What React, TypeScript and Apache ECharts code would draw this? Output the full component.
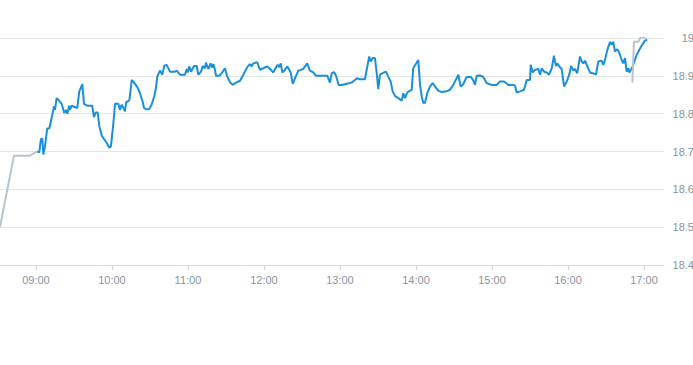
import React, { useEffect, useRef } from "react";
import * as echarts from "echarts";

// minutes after 09:00 and prices
const preMinutes = [-28.4, -17.4, -4.7, 1.0];
const preValues = [18.5, 18.689, 18.689, 18.7];

const mainMinutes = [
  1.0, 2.6, 3.9, 5.0, 5.8, 7.1, 8.9, 10.5, 12.4, 14.2, 15.0, 16.3, 17.6, 20.3, 22.3, 23.7, 24.7, 26.3, 26.8, 28.2,
  32.6, 34.2, 36.6, 37.9, 40.5, 44.4, 45.8, 47.1, 48.7, 50.0, 51.9, 53.7, 55.8, 57.9, 59.2, 61.0, 62.4, 65.0, 66.3, 67.7,
  70.3, 71.1, 73.7, 75.6, 77.4, 80.0, 82.1, 84.2, 85.3, 86.8, 89.4, 91.3, 93.4, 94.5, 95.8, 97.9, 99.7, 101.3, 103.2, 105.8,
  109.7, 111.1, 113.7, 117.6, 119.0, 119.8, 121.0, 122.4, 124.7, 126.9, 128.1, 130.3, 131.6, 133.4, 134.2, 136.0, 137.9, 138.9, 140.0, 141.3,
  142.1, 144.7, 146.6, 149.2, 151.0, 153.2, 155.3, 157.9, 161.1, 163.7, 166.8, 168.9, 170.3, 171.6, 174.7, 176.8, 179.5, 182.6, 184.7, 187.3,
  188.7, 190.8, 192.1, 193.2, 194.5, 196.6, 198.4, 201.1, 202.7, 205.3, 207.1, 208.4, 211.0, 212.4, 214.2, 216.3, 218.9, 221.1, 224.2, 227.4,
  230.0, 232.1, 233.5, 235.3, 236.9, 239.0, 241.4, 245.3, 249.2, 251.8, 253.7, 255.2, 259.7, 261.1, 263.1, 264.2, 265.8, 267.6, 269.0, 270.2,
  271.6, 273.7, 276.3, 278.1, 280.0, 281.6, 283.4, 286.0, 288.7, 290.0, 291.3, 293.1, 295.3, 296.6, 297.8, 300.6, 301.8, 303.2, 304.5, 305.8,
  307.1, 308.9, 311.1, 313.2, 315.0, 317.6, 320.3, 324.2, 326.8, 329.4, 332.1, 333.4, 335.3, 337.3, 340.0, 343.4, 345.2, 346.6, 347.9, 350.5,
  353.1, 355.8, 359.7, 363.7, 366.3, 369.5, 372.9, 376.8, 378.2, 379.5, 382.1, 385.3, 387.4, 390.0, 390.6, 392.2, 394.0, 396.6, 397.9, 399.3,
  401.1, 403.2, 405.0, 407.2, 408.9, 410.5, 411.6, 413.1, 415.0, 416.9, 419.0, 421.0, 422.4, 424.2, 425.5, 427.3, 429.5, 430.8, 432.1, 433.4,
  435.2, 437.4, 439.5, 442.1, 443.9, 446.6, 447.9, 449.2, 451.0, 453.2, 454.5, 455.8, 457.1, 458.5, 459.7, 461.1, 462.4, 463.7, 465.0, 466.3,
  467.6, 468.4, 469.7, 471.1, 474.2, 477.6, 480.8, 482.6,
];
const mainValues = [
  18.7, 18.698, 18.733, 18.734, 18.692, 18.714, 18.761, 18.761, 18.789, 18.819, 18.81, 18.841, 18.837, 18.826, 18.802, 18.81, 18.8, 18.821, 18.81, 18.821,
  18.815, 18.859, 18.878, 18.826, 18.821, 18.821, 18.791, 18.803, 18.803, 18.767, 18.742, 18.733, 18.723, 18.71, 18.714, 18.771, 18.826, 18.826, 18.81, 18.824,
  18.806, 18.83, 18.835, 18.889, 18.882, 18.87, 18.854, 18.832, 18.815, 18.812, 18.812, 18.824, 18.846, 18.863, 18.898, 18.914, 18.903, 18.927, 18.929, 18.911,
  18.911, 18.914, 18.903, 18.903, 18.918, 18.909, 18.925, 18.911, 18.926, 18.926, 18.903, 18.911, 18.926, 18.92, 18.935, 18.918, 18.933, 18.922, 18.931, 18.916,
  18.9, 18.9, 18.907, 18.92, 18.898, 18.883, 18.876, 18.882, 18.887, 18.903, 18.923, 18.931, 18.925, 18.933, 18.936, 18.916, 18.92, 18.925, 18.918, 18.909,
  18.918, 18.929, 18.923, 18.933, 18.909, 18.916, 18.925, 18.909, 18.879, 18.9, 18.914, 18.915, 18.918, 18.925, 18.933, 18.914, 18.909, 18.9, 18.9, 18.9,
  18.9, 18.882, 18.907, 18.91, 18.9, 18.876, 18.876, 18.879, 18.882, 18.889, 18.894, 18.891, 18.891, 18.916, 18.951, 18.938, 18.947, 18.947, 18.907, 18.865,
  18.903, 18.907, 18.911, 18.898, 18.885, 18.859, 18.847, 18.841, 18.834, 18.854, 18.841, 18.856, 18.861, 18.863, 18.92, 18.935, 18.942, 18.876, 18.846, 18.828,
  18.829, 18.854, 18.872, 18.881, 18.872, 18.861, 18.857, 18.859, 18.863, 18.876, 18.894, 18.903, 18.872, 18.878, 18.897, 18.897, 18.888, 18.876, 18.9, 18.901,
  18.897, 18.881, 18.876, 18.876, 18.885, 18.885, 18.876, 18.876, 18.874, 18.856, 18.859, 18.863, 18.889, 18.889, 18.929, 18.909, 18.916, 18.918, 18.903, 18.92,
  18.911, 18.909, 18.903, 18.92, 18.953, 18.926, 18.933, 18.925, 18.918, 18.872, 18.885, 18.903, 18.926, 18.914, 18.918, 18.907, 18.951, 18.938, 18.933, 18.94,
  18.926, 18.909, 18.907, 18.903, 18.938, 18.94, 18.929, 18.942, 18.968, 18.99, 18.982, 18.99, 18.964, 18.97, 18.967, 18.955, 18.942, 18.933, 18.947, 18.911,
  18.92, 18.909, 18.916, 18.925, 18.955, 18.977, 18.993, 18.996,
];

const postMinutes = [470.8, 472.1, 475.5, 477.4, 479.5, 481.6];
const postValues = [18.882, 18.99, 18.99, 19.002, 19.002, 18.996];

const axisStartMinutes = -28.4;
const axisEndMinutes = 495.8;

const BASE = new Date(2024, 0, 2, 9, 0, 0).getTime();
const toTs = (m: number) => BASE + m * 60000;
const pairs = (ms: number[], vs: number[]) => ms.map((m, i) => [toTs(m), vs[i]]);

const pad = (n: number) => (n < 10 ? "0" + n : "" + n);

export default function App() {
  const ref = useRef<HTMLDivElement>(null);
  useEffect(() => {
    if (!ref.current) return;
    const chart = echarts.init(ref.current, undefined, { renderer: "svg" });
    const font = "'Liberation Sans', Arial, sans-serif";
    chart.setOption({
      animation: false,
      backgroundColor: "#ffffff",
      grid: { left: 0, right: 29, top: 38, bottom: 100, containLabel: false, outerBoundsMode: "none" },
      xAxis: {
        type: "time",
        min: toTs(axisStartMinutes),
        max: toTs(axisEndMinutes),
        minInterval: 3600000,
        maxInterval: 3600000,
        axisLine: { show: true, lineStyle: { color: "#ccd6eb", width: 1 } },
        axisTick: { show: true, length: 5, lineStyle: { color: "#ccd6eb" } },
        splitLine: { show: false },
        axisLabel: {
          color: "#8a949e",
          fontSize: 11,
          fontFamily: font,
          margin: 9,
          formatter: (v: number) => {
            const d = new Date(v);
            return pad(d.getHours()) + ":" + pad(d.getMinutes());
          },
        },
      },
      yAxis: {
        type: "value",
        position: "right",
        min: 18.4,
        max: 19,
        interval: 0.1,
        axisLine: { show: false },
        axisTick: { show: false },
        splitLine: { show: true, lineStyle: { color: "#e6e6e6", width: 1 } },
        axisLabel: {
          color: "#8a949e",
          fontSize: 11,
          fontFamily: font,
          margin: 30,
          align: "right",
          formatter: (v: number) => String(Math.round(v * 10) / 10),
        },
      },
      series: [
        {
          type: "line",
          data: pairs(preMinutes, preValues),
          showSymbol: false,
          lineStyle: { color: "#b8c3cc", width: 2 },
          itemStyle: { color: "#b8c3cc" },
          z: 2,
        },
        {
          type: "line",
          data: pairs(mainMinutes, mainValues),
          showSymbol: false,
          lineStyle: { color: "#1a8fdd", width: 2 },
          itemStyle: { color: "#1a8fdd" },
          z: 3,
        },
        {
          type: "line",
          data: pairs(postMinutes, postValues),
          showSymbol: false,
          lineStyle: { color: "#b8c3cc", width: 2 },
          itemStyle: { color: "#b8c3cc" },
          z: 4,
        },
      ],
    });
    return () => chart.dispose();
  }, []);
  return <div ref={ref} style={{ width: 693, height: 365, position: "absolute", left: 0, top: 0 }} />;
}
